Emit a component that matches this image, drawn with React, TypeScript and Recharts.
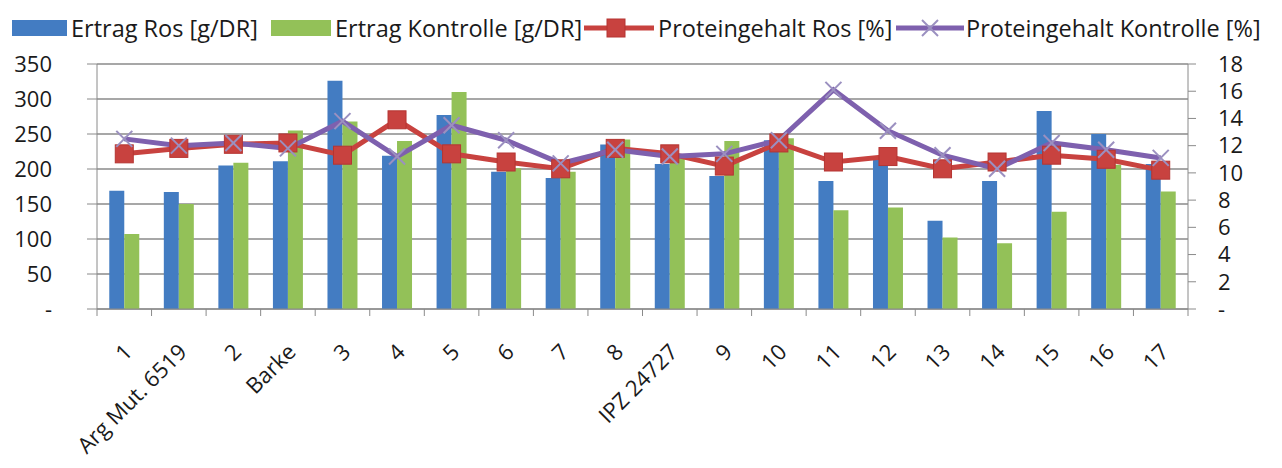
import React from "react";
import {
  Bar,
  CartesianGrid,
  ComposedChart,
  Line,
  XAxis,
  YAxis,
} from "recharts";

// Sorten / Linien
const categories = [
  "1",
  "Arg Mut. 6519",
  "2",
  "Barke",
  "3",
  "4",
  "5",
  "6",
  "7",
  "8",
  "IPZ 24727",
  "9",
  "10",
  "11",
  "12",
  "13",
  "14",
  "15",
  "16",
  "17",
];

// g/DR
const ertragRos = [
  169, 167, 205, 211, 326, 219, 277, 196, 187, 235, 207, 190, 241, 183, 215,
  126, 183, 283, 250, 207,
];
const ertragKontrolle = [
  107, 150, 209, 255, 268, 240, 310, 201, 196, 242, 218, 240, 244, 141, 145,
  102, 94, 139, 206, 168,
];

// %
const proteinRos = [
  11.4, 11.8, 12.1, 12.2, 11.3, 13.9, 11.4, 10.8, 10.3, 11.8, 11.4, 10.5, 12.2,
  10.8, 11.2, 10.3, 10.8, 11.3, 11.0, 10.2,
];
const proteinKontrolle = [
  12.5, 12.0, 12.2, 11.8, 13.8, 11.2, 13.5, 12.4, 10.7, 11.7, 11.2, 11.4, 12.4,
  16.1, 13.1, 11.3, 10.3, 12.2, 11.7, 11.1,
];

const leftTicks = [0, 50, 100, 150, 200, 250, 300, 350];
const rightTicks = [0, 2, 4, 6, 8, 10, 12, 14, 16, 18];

const data = categories.map((name, i) => ({
  name,
  ertragRos: ertragRos[i],
  ertragKontrolle: ertragKontrolle[i],
  proteinRos: proteinRos[i],
  proteinKontrolle: proteinKontrolle[i],
}));

const W = 1282;
const H = 468;
const LEFT_W = 97;
const RIGHT_W = 94;
const TOP = 64;
const X_AXIS_H = 159;
const BAND = (W - LEFT_W - RIGHT_W) / categories.length;

const FONT = "'Open Sans', sans-serif";
const BLUE = "#437cc2";
const GREEN = "#93c158";
const RED = "#c8423f";
const PURPLE = "#7e60ae";
const X_MARK = "#9b90c0";
const GRID = "#8a8a8a";

const SquareDot = (props: any) => {
  const { cx, cy } = props;
  if (cx == null || cy == null) return null;
  return (
    <rect
      x={cx - 9}
      y={cy - 9}
      width={18}
      height={18}
      fill={RED}
      stroke="#b53532"
      strokeWidth={1}
    />
  );
};

const CrossDot = (props: any) => {
  const { cx, cy } = props;
  if (cx == null || cy == null) return null;
  return (
    <g stroke={X_MARK} strokeWidth={2}>
      <line x1={cx - 8} y1={cy - 8} x2={cx + 8} y2={cy + 8} />
      <line x1={cx - 8} y1={cy + 8} x2={cx + 8} y2={cy - 8} />
    </g>
  );
};

// rotated labels + tick marks between categories (like Excel)
const CategoryTick = (props: any) => {
  const { x, y, payload, index } = props;
  const ax = x + 3;
  const ay = y + 38;
  const last = index === categories.length - 1;
  return (
    <g>
      <line x1={x - BAND / 2} y1={y} x2={x - BAND / 2} y2={y + 7} stroke={GRID} />
      {last && (
        <line x1={x + BAND / 2} y1={y} x2={x + BAND / 2} y2={y + 7} stroke={GRID} />
      )}
      <text
        x={ax}
        y={ay}
        transform={`rotate(-45, ${ax}, ${ay})`}
        textAnchor="end"
        dominantBaseline="central"
        fontFamily={FONT}
        fontSize={22}
        fill="#1a1a1a"
      >
        {payload.value}
      </text>
    </g>
  );
};

const dash = (v: number) => (v === 0 ? "-" : String(v));

function LegendRow() {
  const ty = 28;
  const textProps = {
    fontFamily: FONT,
    fontSize: 23.5,
    fill: "#1a1a1a",
    dominantBaseline: "central" as const,
  };
  return (
    <svg
      width={W}
      height={50}
      style={{ position: "absolute", left: 0, top: 0 }}
    >
      <rect x={12} y={20} width={55} height={16} fill={BLUE} />
      <text x={71} y={ty} {...textProps}>
        Ertrag Ros [g/DR]
      </text>
      <rect x={271} y={20} width={60} height={16} fill={GREEN} />
      <text x={335} y={ty} {...textProps}>
        Ertrag Kontrolle [g/DR]
      </text>
      <line x1={584} y1={ty} x2={654} y2={ty} stroke={RED} strokeWidth={5} />
      <SquareDot cx={616} cy={ty} />
      <text x={658} y={ty} {...textProps}>
        Proteingehalt Ros [%]
      </text>
      <line x1={896} y1={ty} x2={964} y2={ty} stroke={PURPLE} strokeWidth={5} />
      <CrossDot cx={930} cy={ty} />
      <text x={966} y={ty} {...textProps}>
        Proteingehalt Kontrolle [%]
      </text>
    </svg>
  );
}

export default function App() {
  return (
    <div
      style={{
        position: "absolute",
        left: 0,
        top: 0,
        width: W,
        height: H,
        background: "#fff",
      }}
    >
      <ComposedChart
        width={W}
        height={H}
        data={data}
        margin={{ top: TOP, right: 0, bottom: 0, left: 0 }}
        barCategoryGap="22.5%"
        barGap={0}
      >
        <CartesianGrid
          yAxisId="left"
          vertical={false}
          stroke={GRID}
          strokeWidth={1.3}
        />
        <XAxis
          dataKey="name"
          height={X_AXIS_H}
          interval={0}
          axisLine={{ stroke: GRID }}
          tickLine={false}
          tickSize={0}
          tickMargin={0}
          tick={<CategoryTick />}
        />
        <YAxis
          yAxisId="left"
          orientation="left"
          width={LEFT_W}
          domain={[0, 350]}
          ticks={leftTicks}
          interval={0}
          tickFormatter={dash}
          axisLine={{ stroke: GRID }}
          tickLine={{ stroke: GRID }}
          tickSize={10}
          tickMargin={35}
          tick={{ fontFamily: FONT, fontSize: 22, fill: "#1a1a1a" }}
        />
        <YAxis
          yAxisId="right"
          orientation="right"
          width={RIGHT_W}
          domain={[0, 18]}
          ticks={rightTicks}
          interval={0}
          tickFormatter={dash}
          axisLine={{ stroke: GRID }}
          tickLine={{ stroke: GRID }}
          tickSize={8}
          tickMargin={22}
          tick={{
            fontFamily: FONT,
            fontSize: 22,
            fill: "#1a1a1a",
            textAnchor: "start",
          }}
        />
        <Bar
          yAxisId="left"
          dataKey="ertragRos"
          fill={BLUE}
          isAnimationActive={false}
        />
        <Bar
          yAxisId="left"
          dataKey="ertragKontrolle"
          fill={GREEN}
          isAnimationActive={false}
        />
        <Line
          yAxisId="right"
          type="linear"
          dataKey="proteinRos"
          stroke={RED}
          strokeWidth={5}
          dot={<SquareDot />}
          activeDot={false}
          isAnimationActive={false}
        />
        <Line
          yAxisId="right"
          type="linear"
          dataKey="proteinKontrolle"
          stroke={PURPLE}
          strokeWidth={5}
          dot={<CrossDot />}
          activeDot={false}
          isAnimationActive={false}
        />
      </ComposedChart>
      <LegendRow />
    </div>
  );
}
